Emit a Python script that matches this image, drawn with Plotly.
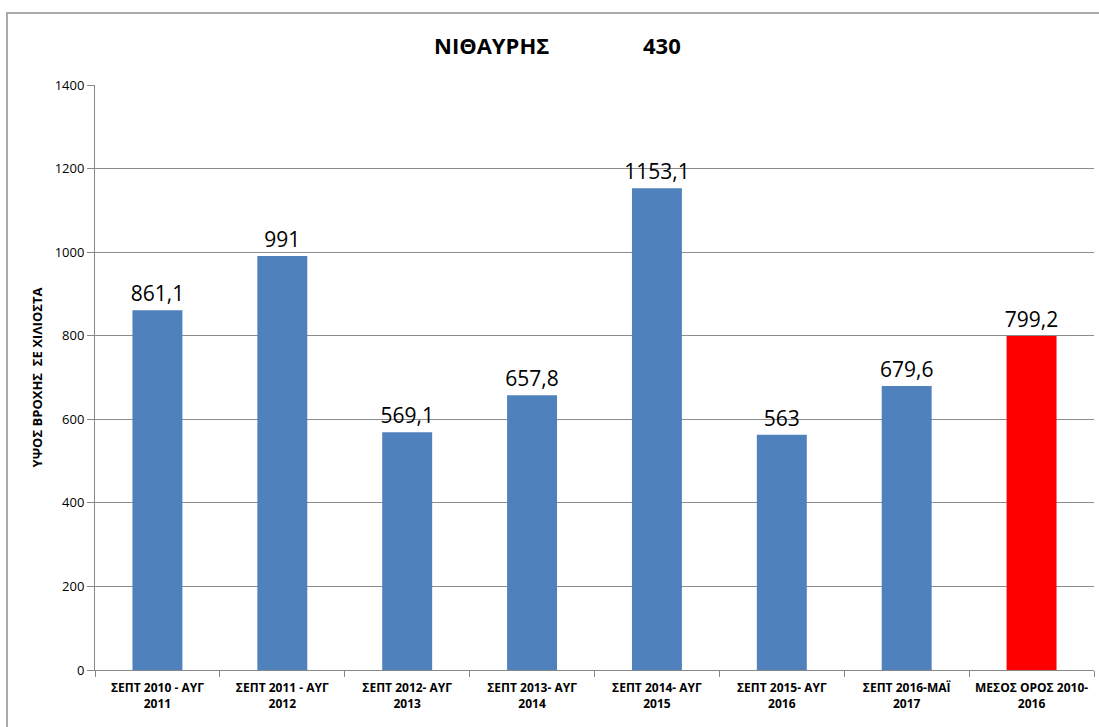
import plotly.graph_objects as go

# rainfall per hydrological year, station ΝΙΘΑΥΡΗΣ 430
categories = [
    "ΣΕΠΤ 2010 - ΑΥΓ<br>2011",
    "ΣΕΠΤ 2011 - ΑΥΓ<br>2012",
    "ΣΕΠΤ 2012- ΑΥΓ<br>2013",
    "ΣΕΠΤ 2013- ΑΥΓ<br>2014",
    "ΣΕΠΤ 2014- ΑΥΓ<br>2015",
    "ΣΕΠΤ 2015- ΑΥΓ<br>2016",
    "ΣΕΠΤ 2016-ΜΑΪ<br>2017",
    "ΜΕΣΟΣ ΟΡΟΣ 2010-<br>2016",
]
rainfall = [861.1, 991, 569.1, 657.8, 1153.1, 563, 679.6, 799.2]
bar_colors = ["#4F81BD"] * 7 + ["#FF0000"]

labels = [f"{v:g}".replace(".", ",") for v in rainfall]

W, H = 1099, 727
L, R, T, B = 95, 5, 85, 57
pw, ph = W - L - R, H - T - B


def px_x(x):
    return (x - L) / pw


def px_y(y):
    return (H - B - y) / ph


fig = go.Figure(
    go.Bar(
        x=categories,
        y=rainfall,
        marker={"color": bar_colors, "line": {"width": 0}},
        width=0.4,
        text=labels,
        textposition="outside",
        constraintext="none",
        textfont={"family": "Open Sans, Liberation Sans, sans-serif", "size": 21, "color": "#000"},
        cliponaxis=False,
        hoverinfo="skip",
    )
)

fig.update_layout(
    width=W,
    height=H,
    margin={"l": L, "r": R, "t": T, "b": B},
    paper_bgcolor="white",
    plot_bgcolor="white",
    showlegend=False,
    font={"family": "Open Sans, Liberation Sans, sans-serif", "color": "#000"},
    xaxis={
        "type": "category",
        "showline": True,
        "linecolor": "#888888",
        "linewidth": 1,
        "ticks": "outside",
        "tickson": "boundaries",
        "ticklen": 6,
        "tickcolor": "#888888",
        "ticklabelstandoff": 7,
        "tickfont": {"size": 12, "family": "Open Sans, sans-serif", "weight": "bold"},
        "showgrid": False,
    },
    yaxis={
        "range": [0, 1400],
        "dtick": 200,
        "showline": True,
        "linecolor": "#888888",
        "linewidth": 1,
        "ticks": "outside",
        "ticklen": 7,
        "tickcolor": "#888888",
        "tickfont": {"size": 13},
        "showgrid": True,
        "gridcolor": "#8C8C8C",
        "gridwidth": 1,
        "zeroline": False,
        "title": {
            "text": "ΥΨΟΣ ΒΡΟΧΗΣ  ΣΕ ΧΙΛΙΟΣΤΑ",
            "font": {"size": 13, "weight": "bold"},
            "standoff": 9,
        },
    },
    shapes=[
        {
            "type": "rect",
            "xref": "paper",
            "yref": "paper",
            "x0": px_x(7),
            "x1": px_x(1105),
            "y0": px_y(735),
            "y1": px_y(13),
            "line": {"color": "#AAAAAA", "width": 2},
            "fillcolor": "rgba(0,0,0,0)",
            "layer": "below",
        }
    ],
    annotations=[
        {
            "text": "ΝΙΘΑΥΡΗΣ",
            "xref": "paper",
            "yref": "paper",
            "x": px_x(491),
            "y": px_y(45),
            "xanchor": "center",
            "yanchor": "middle",
            "showarrow": False,
            "font": {"size": 22, "weight": "bold"},
        },
        {
            "text": "430",
            "xref": "paper",
            "yref": "paper",
            "x": px_x(662),
            "y": px_y(45),
            "xanchor": "center",
            "yanchor": "middle",
            "showarrow": False,
            "font": {"size": 22, "weight": "bold"},
        },
    ],
)

fig.write_html(
    "out.html",
    config={"displayModeBar": False},
    post_script="document.body.style.margin='0';",
)
